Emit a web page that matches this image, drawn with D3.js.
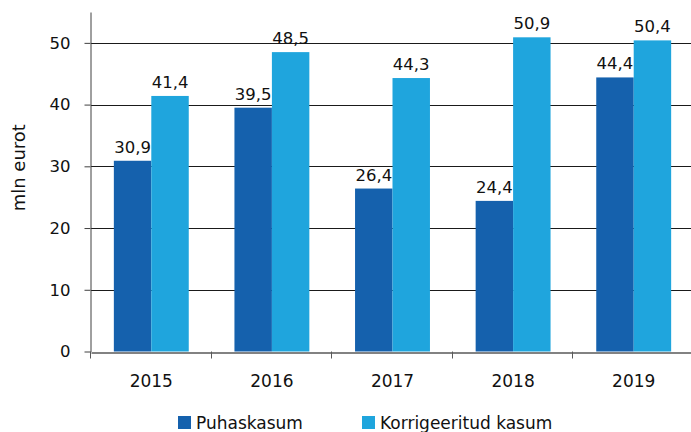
<!DOCTYPE html>
<html>
<head>
<meta charset="utf-8">
<script src="https://cdn.jsdelivr.net/npm/d3@7"></script>
<style>
  body { margin: 0; background: #fff; }
  svg { display: block; font-family: "DejaVu Sans", sans-serif; }
</style>
</head>
<body>
<div id="chart"></div>
<script>
// data
var years = ["2015", "2016", "2017", "2018", "2019"];
var puhaskasum = [30.9, 39.5, 26.4, 24.4, 44.4];
var korrigeeritud = [41.4, 48.5, 44.3, 50.9, 50.4];
var seriesNames = ["Puhaskasum", "Korrigeeritud kasum"];
var colors = ["#1561ad", "#1fa5dd"];
var yTicks = [0, 10, 20, 30, 40, 50];

var width = 691, height = 432;
var margin = ({top: 12, right: -3, bottom: 80.5, left: 91});

var svg = d3.select("#chart")
  .append("svg")
    .attr("width", width)
    .attr("height", height);

var x = d3.scaleBand()
    .domain(years)
    .range([margin.left, width - margin.right]);

var inner = d3.scaleBand()
    .domain(seriesNames)
    .range([0, x.bandwidth()])
    .paddingOuter(0.61)
    .paddingInner(0);

var y = d3.scaleLinear()
    .domain([0, 55])
    .range([height - margin.bottom, margin.top]);

// gridlines
svg.append("g")
  .selectAll("line")
  .data(yTicks.filter(d => d > 0))
  .join("line")
    .attr("x1", margin.left)
    .attr("x2", width)
    .attr("y1", d => Math.round(y(d)) + 0.5)
    .attr("y2", d => Math.round(y(d)) + 0.5)
    .attr("stroke", "#1a1a1a")
    .attr("stroke-width", 1);

// bars
var rows = years.map((yr, i) => ({year: yr, values: [puhaskasum[i], korrigeeritud[i]]}));

var groups = svg.append("g")
  .selectAll("g")
  .data(rows)
  .join("g")
    .attr("transform", d => `translate(${x(d.year)},0)`);

groups.selectAll("rect")
  .data(d => d.values.map((v, i) => ({name: seriesNames[i], value: v, i: i})))
  .join("rect")
    .attr("x", d => inner(d.name))
    .attr("width", inner.bandwidth())
    .attr("y", d => y(d.value))
    .attr("height", d => y(0) - y(d.value))
    .attr("fill", d => colors[d.i]);

groups.selectAll("text")
  .data(d => d.values.map((v, i) => ({name: seriesNames[i], value: v})))
  .join("text")
    .attr("x", d => inner(d.name) + inner.bandwidth() / 2)
    .attr("y", d => y(d.value) - 8)
    .attr("text-anchor", "middle")
    .attr("font-size", 16.5)
    .attr("fill", "#111")
    .text(d => d3.format(".1f")(d.value).replace(".", ","));

// y axis
var yAxis = g => g
    .attr("transform", `translate(${margin.left - 0.5},0)`)
    .call(d3.axisLeft(y).tickValues(yTicks).tickSize(6).tickPadding(14).tickSizeOuter(0))
    .call(g => g.select(".domain").attr("stroke", "#404040"))
    .call(g => g.selectAll(".tick line").attr("stroke", "#404040"))
    .call(g => g.selectAll(".tick text")
        .attr("font-size", 16.5)
        .attr("font-family", "DejaVu Sans, sans-serif")
        .attr("fill", "#111"));

// x axis
var xAxis = g => g
    .attr("transform", `translate(0,${Math.round(y(0)) + 0.5})`)
    .call(d3.axisBottom(x).tickSize(0).tickPadding(22))
    .call(g => g.select(".domain").attr("stroke", "#595959").attr("stroke-width", 1.5))
    .call(g => g.selectAll(".tick text")
        .attr("font-size", 17)
        .attr("font-family", "DejaVu Sans, sans-serif")
        .attr("fill", "#111"));

svg.append("g").call(yAxis);
svg.append("g").call(xAxis);

// category boundary ticks (first one continues the y axis)
svg.append("g")
  .selectAll("line")
  .data(years)
  .join("line")
    .attr("x1", d => Math.round(x(d)) - 0.5)
    .attr("x2", d => Math.round(x(d)) - 0.5)
    .attr("y1", y(0))
    .attr("y2", y(0) + 7)
    .attr("stroke", "#595959");

// y title
svg.append("text")
    .attr("transform", `translate(25,${(y(55) + y(0)) / 2 - 14}) rotate(-90)`)
    .attr("text-anchor", "middle")
    .attr("font-size", 18)
    .attr("fill", "#111")
    .text("mln eurot");

// legend
var legendX = [178, 362];
var legend = svg.append("g")
  .selectAll("g")
  .data(seriesNames)
  .join("g")
    .attr("transform", (d, i) => `translate(${legendX[i]},416)`);

legend.append("rect")
    .attr("width", 13)
    .attr("height", 13)
    .attr("fill", (d, i) => colors[i]);

legend.append("text")
    .attr("x", 18)
    .attr("y", 13)
    .attr("font-size", 17)
    .attr("fill", "#111")
    .text(d => d);
</script>
</body>
</html>
